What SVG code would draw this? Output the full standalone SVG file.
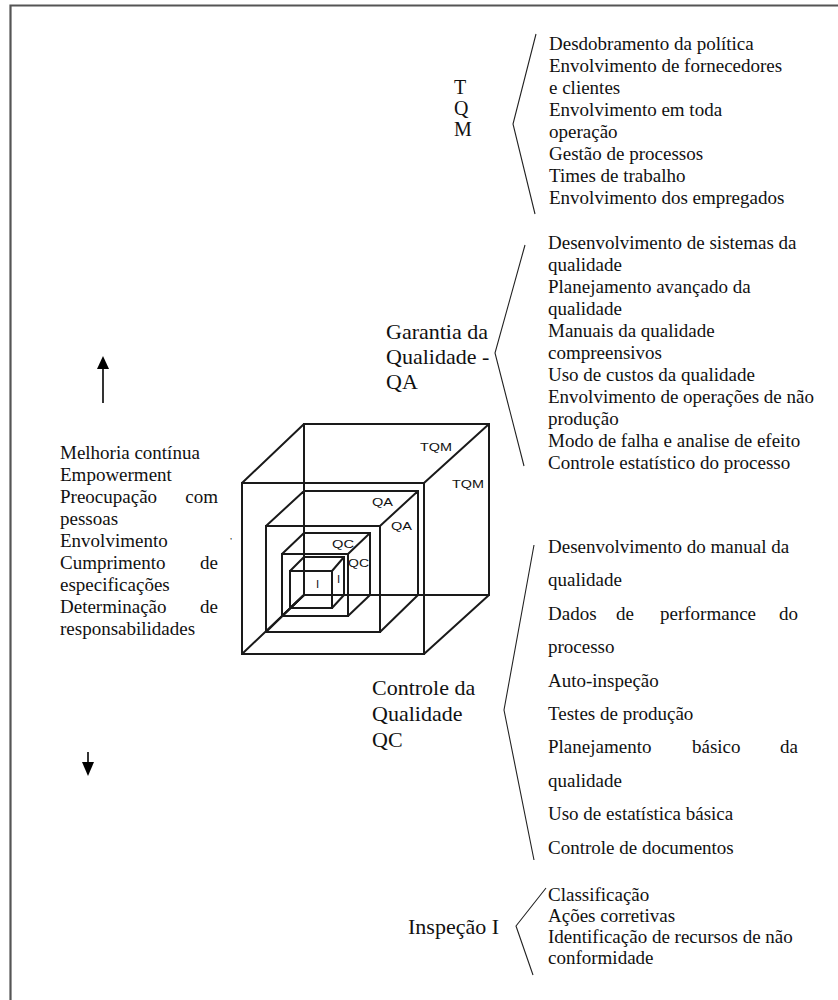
<svg xmlns="http://www.w3.org/2000/svg" width="838" height="1000" viewBox="0 0 838 1000">
<style>
.t{font-family:"Liberation Serif","Times New Roman",serif;font-size:19px;fill:#111}
.lb{font-family:"Liberation Serif","Times New Roman",serif;font-size:22px;fill:#111}
.c{font-family:"Liberation Sans",Arial,sans-serif;font-size:11.5px;fill:#111}
.e{text-anchor:end}
.cube{fill:none;stroke:#1a1a1a;stroke-width:2}
.br{fill:none;stroke:#222;stroke-width:1.1}
</style>
<rect width="838" height="1000" fill="#fff"/>
<g id="border" stroke="#555" stroke-width="2.2" fill="none">
<path d="M10.5,1000V5.5H838"/>
</g>
<g id="cube">
<path id="cube-tqm" class="cube" d="M242,483H424V654H242Z M304,424H489V595H304Z M242,483L304,424 M424,483L489,424 M424,654L489,595 M242,654L304,595"/>
<path id="cube-qa" class="cube" d="M266,526H380V632H266Z M304,491H418V595H304Z M266,526L304,491 M380,526L418,491 M380,632L418,595 M266,632L304,595"/>
<path id="cube-qc" class="cube" d="M282,554H348V616H282Z M304,533H370V595H304Z M282,554L304,533 M348,554L370,533 M348,616L370,595 M282,616L304,595"/>
<path id="cube-i" class="cube" d="M290,571H332V608H290Z M304,557H344V595H304Z M290,571L304,557 M332,571L344,557 M332,608L344,595 M290,608L304,595"/>
<text class="c" x="420" y="451" textLength="32" lengthAdjust="spacingAndGlyphs">TQM</text>
<text class="c" x="452" y="488" textLength="32" lengthAdjust="spacingAndGlyphs">TQM</text>
<text class="c" x="372" y="506" textLength="21" lengthAdjust="spacingAndGlyphs">QA</text>
<text class="c" x="391" y="530" textLength="21" lengthAdjust="spacingAndGlyphs">QA</text>
<text class="c" x="332" y="548" textLength="22" lengthAdjust="spacingAndGlyphs">QC</text>
<text class="c" x="348" y="567" textLength="21" lengthAdjust="spacingAndGlyphs">QC</text>
<text class="c" x="316" y="588">I</text>
<text class="c" x="337" y="583">I</text>
<text class="c" x="230" y="544" style="font-size:9px">’</text>
</g>
<g id="connectors">
<path id="brace-tqm" class="br" d="M536,34L513,124L535,214"/>
<path id="brace-qa" class="br" d="M525,245L495,353L524,466"/>
<path id="brace-qc" class="br" d="M534,545L504,710L534,860"/>
<path id="brace-i" class="br" d="M546,888L516,926L533,975"/>
<g id="arrow-up"><line x1="103" y1="403" x2="103" y2="366" stroke="#000" stroke-width="1.6"/><polygon points="103,356 97,369 109,369" fill="#000"/></g>
<g id="arrow-down"><line x1="88" y1="752" x2="88" y2="764" stroke="#000" stroke-width="1.6"/><polygon points="88,776 82,762 94,762" fill="#000"/></g>
</g>
<g id="node-tqm">
<text class="lb" style="font-size:20px" x="454" y="94">T</text>
<text class="lb" style="font-size:20px" x="454" y="115">Q</text>
<text class="lb" style="font-size:20px" x="454" y="136">M</text>
<text class="t" x="549" y="50">Desdobramento da política</text>
<text class="t" x="549" y="72">Envolvimento de fornecedores</text>
<text class="t" x="549" y="94">e clientes</text>
<text class="t" x="549" y="116">Envolvimento em toda</text>
<text class="t" x="549" y="138">operação</text>
<text class="t" x="549" y="160">Gestão de processos</text>
<text class="t" x="549" y="182">Times de trabalho</text>
<text class="t" x="549" y="204">Envolvimento dos empregados</text>
</g>
<g id="node-qa">
<text class="lb" x="386" y="339">Garantia da</text>
<text class="lb" x="386" y="364">Qualidade -</text>
<text class="lb" x="386" y="389">QA</text>
<text class="t" x="548" y="249">Desenvolvimento de sistemas da</text>
<text class="t" x="548" y="271">qualidade</text>
<text class="t" x="548" y="293">Planejamento avançado da</text>
<text class="t" x="548" y="315">qualidade</text>
<text class="t" x="548" y="337">Manuais da qualidade</text>
<text class="t" x="548" y="359">compreensivos</text>
<text class="t" x="548" y="381">Uso de custos da qualidade</text>
<text class="t" x="548" y="403">Envolvimento de operações de não</text>
<text class="t" x="548" y="425">produção</text>
<text class="t" x="548" y="447">Modo de falha e analise de efeito</text>
<text class="t" x="548" y="469">Controle estatístico do processo</text>
</g>
<g id="node-left">
<text class="t" x="60" y="459">Melhoria contínua</text>
<text class="t" x="60" y="481">Empowerment</text>
<text class="t" x="60" y="503">Preocupação</text><text class="t e" x="218" y="503">com</text>
<text class="t" x="60" y="525">pessoas</text>
<text class="t" x="60" y="547">Envolvimento</text>
<text class="t" x="60" y="569">Cumprimento</text><text class="t e" x="218" y="569">de</text>
<text class="t" x="60" y="591">especificações</text>
<text class="t" x="60" y="613">Determinação</text><text class="t e" x="218" y="613">de</text>
<text class="t" x="60" y="635">responsabilidades</text>
</g>
<g id="node-qc">
<text class="lb" x="372" y="695">Controle da</text>
<text class="lb" x="372" y="721">Qualidade</text>
<text class="lb" x="372" y="747">QC</text>
<text class="t" x="548" y="553">Desenvolvimento do manual da</text>
<text class="t" x="548" y="586">qualidade</text>
<text class="t" x="548" y="620">Dados</text><text class="t" x="616" y="620">de</text><text class="t" x="660" y="620">performance</text><text class="t e" x="798" y="620">do</text>
<text class="t" x="548" y="653">processo</text>
<text class="t" x="548" y="687">Auto-inspeção</text>
<text class="t" x="548" y="720">Testes de produção</text>
<text class="t" x="548" y="753">Planejamento</text><text class="t" x="692" y="753">básico</text><text class="t e" x="798" y="753">da</text>
<text class="t" x="548" y="787">qualidade</text>
<text class="t" x="548" y="820">Uso de estatística básica</text>
<text class="t" x="548" y="854">Controle de documentos</text>
</g>
<g id="node-i">
<text class="lb" x="408" y="934">Inspeção I</text>
<text class="t" x="548" y="901">Classificação</text>
<text class="t" x="548" y="922">Ações corretivas</text>
<text class="t" x="548" y="943">Identificação de recursos de não</text>
<text class="t" x="548" y="964">conformidade</text>
</g>
</svg>
